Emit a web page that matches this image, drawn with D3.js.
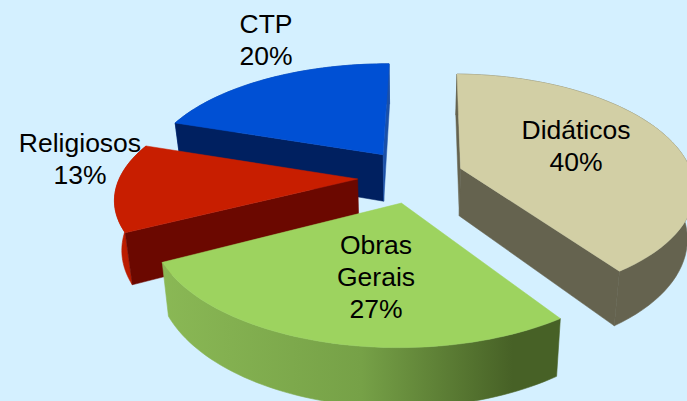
<!DOCTYPE html>
<html><head><meta charset="utf-8">
<script src="https://cdn.jsdelivr.net/npm/d3@7"></script>
<style>html,body{margin:0;padding:0;background:#d4f0ff;overflow:hidden}svg{display:block}</style>
</head><body><svg id="c" width="687" height="401"></svg>
<script>
const categories = ["Didáticos","Obras Gerais","Religiosos","CTP"];
const values = [40,27,13,20];
const labelLines = [["Didáticos","40%"],["Obras","Gerais","27%"],["Religiosos","13%"],["CTP","20%"]];

// layout & style (separate from data)
const W=687,H=401;
const view={cx:410,cy:178,rx:232,ry:111.7,k:0.16,depth:48,shrink:0.975,rot:1*Math.PI/180};
const explode=[0.235,0.24,0.23,0.24];
const nudge=[[-1,-2],[5,-2],[1,-1],[4,-2]];
const scaleX=[1,1.025,1.025,1.03];
const scaleY=[1,1,0.95,1];
const sliceRot=[0,0.75,0,-0.5].map(d=>d*Math.PI/180);
const topCol=["#d2cfa5","#9dd35f","#c81e00","#0050d4"];
const cutStart=["#65634f","#65634f","#6b0800","#002060"];
const cutEnd=["#65634f","#65634f","#6b0800","#1b50a8"];
const rimStops=[["#65634f","#65634f"],["#8ab855","#76a147","#476126","#476126"],["#bb1c00","#bb1c00"],["#1b50a8","#1b50a8"]];
const drawOrder=[3,2,0,1];
const labelPos=[[576,139],[376,254],[80,152],[266,33]];

const svg=d3.select("#c");
svg.append("rect").attr("width",W).attr("height",H).attr("fill","#d4f0ff");
const defs=svg.append("defs");
const arcs=d3.pie().sort(null).value(d=>d).startAngle(view.rot).endAngle(2*Math.PI+view.rot)(values);
const line=d3.line().x(d=>d.x).y(d=>d.y);

drawOrder.forEach(i=>{
  const proj=(u,v)=>{const s=1/(1-view.k*v);return {x:view.cx+view.rx*u*s+nudge[i][0],y:view.cy+view.ry*v*s+nudge[i][1],s};};
  const base=p=>({x:view.cx+(p.x-view.cx)*view.shrink,y:p.y+view.depth*p.s});
  const a=arcs[i],mid=(a.startAngle+a.endAngle)/2,e=explode[i];
  const au=e*Math.sin(mid),av=-e*Math.cos(mid);
  const apex=proj(au,av);
  const n=60;
  const angle=d3.scaleLinear().domain([0,n]).range([a.startAngle+sliceRot[i],a.endAngle+sliceRot[i]]);
  const rim=d3.range(n+1).map(j=>{
    const t=angle(j),p=proj(au+Math.sin(t),av-Math.cos(t));
    return {x:apex.x+(p.x-apex.x)*scaleX[i],y:apex.y+(p.y-apex.y)*scaleY[i],s:p.s};
  });
  const g=svg.append("g");
  const xs=d3.extent(rim,d=>d.x);
  const grad=defs.append("linearGradient").attr("id","rim"+i).attr("gradientUnits","userSpaceOnUse")
    .attr("x1",xs[0]).attr("x2",xs[1]).attr("y1",0).attr("y2",0);
  const st=rimStops[i];
  st.forEach((c,j)=>grad.append("stop").attr("offset",st.length===4?[0,.5,.88,1][j]:j/(st.length-1)).attr("stop-color",c));
  g.append("path").attr("d",line([...rim,...rim.map(base).reverse()])+"Z").attr("fill",`url(#rim${i})`).attr("stroke",`url(#rim${i})`).attr("stroke-width",0.6);
  const midRim=rim[n>>1];
  const visible=p=>{
    const m={x:(apex.x+p.x)/2,y:(apex.y+p.y)/2,s:(apex.s+p.s)/2};
    const b=base(m);
    const dx=p.x-apex.x,dy=p.y-apex.y;
    const side1=dx*(b.y-m.y)-dy*(b.x-m.x);
    const side2=dx*(midRim.y-apex.y)-dy*(midRim.x-apex.x);
    return side1*side2<0;
  };
  [[rim[0],cutStart[i]],[rim[n],cutEnd[i]]].forEach(([p,c])=>{
    if(visible(p)) g.append("path").attr("d",line([apex,p,base(p),base(apex)])+"Z").attr("fill",c).attr("stroke",c).attr("stroke-width",0.5);
  });
  g.append("path").attr("d",line([apex,...rim])+"Z").attr("fill",topCol[i]).attr("stroke",topCol[i]).attr("stroke-width",0.5);
});

const lh=32;
labelLines.forEach((ls,i)=>{
  const t=svg.append("text").attr("text-anchor","middle").attr("font-family","'Liberation Sans',Arial,sans-serif").attr("font-size",26.5).attr("fill","#000");
  ls.forEach((s,j)=>t.append("tspan").attr("x",labelPos[i][0]).attr("y",labelPos[i][1]+j*lh).text(s));
});
</script></body></html>
